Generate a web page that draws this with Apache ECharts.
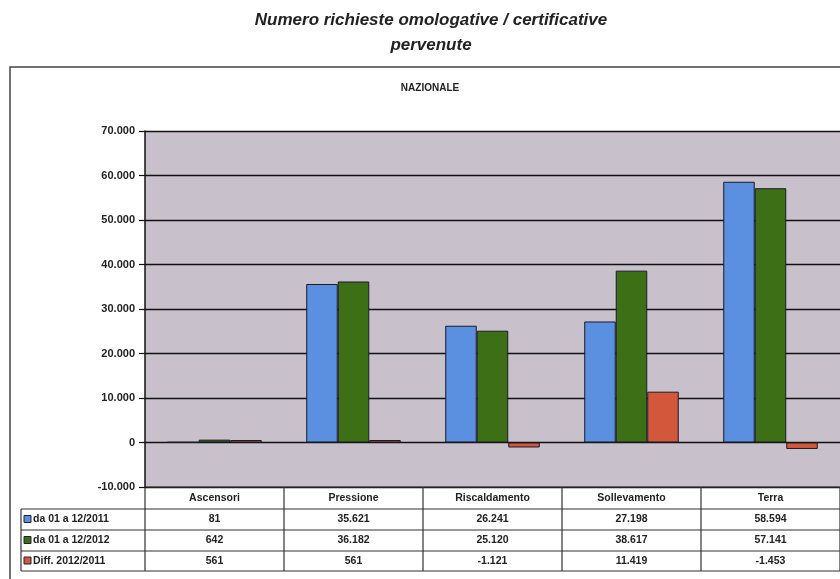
<!DOCTYPE html>
<html><head><meta charset="utf-8">
<script src="https://cdn.jsdelivr.net/npm/echarts@6/dist/echarts.min.js"></script>
<style>html,body{margin:0;padding:0;background:#fff;}#c{width:840px;height:579px;}</style>
</head><body><div id="c"></div>
<script>
const categories = ['Ascensori', 'Pressione', 'Riscaldamento', 'Sollevamento', 'Terra'];
const seriesNames = ['da 01 a 12/2011', 'da 01 a 12/2012', 'Diff. 2012/2011'];
const values2011 = [81, 35621, 26241, 27198, 58594];
const values2012 = [642, 36182, 25120, 38617, 57141];
const valuesDiff = [561, 561, -1121, 11419, -1453];
const yTicks = [-10000, 0, 10000, 20000, 30000, 40000, 50000, 60000, 70000];
const colors = ['#5b8fe0', '#3d6f16', '#d3573a'];

function fmt(n) {
  const s = Math.abs(n).toString().replace(/\B(?=(\d{3})+(?!\d))/g, '.');
  return (n < 0 ? '-' : '') + s;
}

const chart = echarts.init(document.getElementById('c'), null, {renderer: 'canvas'});
const FONT = 'Liberation Sans, Arial, sans-serif';
const G = {left: 145, top: 131, width: 695, height: 356};

chart.setOption({
  animation: false,
  backgroundColor: '#ffffff',
  textStyle: {fontFamily: FONT},
  grid: {left: G.left, top: G.top, width: G.width, height: G.height, containLabel: false,
         show: true, backgroundColor: '#c8c1cc', borderWidth: 0},
  xAxis: {
    type: 'category', data: categories,
    axisLine: {show: false}, axisTick: {show: false}, axisLabel: {show: false},
    splitLine: {show: false}
  },
  yAxis: {
    type: 'value', min: yTicks[0], max: yTicks[yTicks.length - 1], interval: 10000,
    axisLine: {show: true, lineStyle: {color: '#111', width: 1.5}},
    axisTick: {show: true, length: 6, lineStyle: {color: '#111', width: 1.2}},
    axisLabel: {formatter: v => fmt(v), color: '#222', fontWeight: 'bold', fontSize: 11, margin: 10, fontFamily: FONT},
    splitLine: {show: true, lineStyle: {color: '#111', width: 1.3}}
  },
  series: [values2011, values2012, valuesDiff].map((d, i) => ({
    type: 'bar', name: seriesNames[i], data: d,
    barGap: '0%', barCategoryGap: '32%',
    itemStyle: {color: colors[i], borderColor: '#1a1a28', borderWidth: 1}
  }))
});

const gfx = [];
gfx.push({type: 'text', x: 431, y: 12, silent: true, z: 10,
  style: {text: 'Numero richieste omologative / certificative', fill: '#222',
    font: 'italic bold 17px ' + FONT, align: 'center', verticalAlign: 'top'}});
gfx.push({type: 'text', x: 431, y: 37, silent: true, z: 10,
  style: {text: 'pervenute', fill: '#222',
    font: 'italic bold 17px ' + FONT, align: 'center', verticalAlign: 'top'}});
gfx.push({type: 'rect', shape: {x: 10, y: 67, width: 840, height: 530},
  style: {fill: 'none', stroke: '#444', lineWidth: 1.5}, silent: true});
gfx.push({type: 'text', x: 430, y: 88,
  style: {text: 'NAZIONALE', fill: '#222', font: 'bold 10px ' + FONT, align: 'center', verticalAlign: 'middle'}});

const rowsY = [487, 509, 530, 551, 571];
const colX = [145];
for (let i = 0; i < categories.length; i++) colX.push(G.left + G.width * (i + 1) / categories.length);
const legendLeft = 21;
const line = (x1, y1, x2, y2) => gfx.push({type: 'line', shape: {x1, y1, x2, y2},
  style: {stroke: '#333', lineWidth: 1.2}, silent: true});
line(G.left, rowsY[0], 842, rowsY[0]);
for (let r = 1; r < rowsY.length; r++) line(legendLeft, rowsY[r], 842, rowsY[r]);
line(legendLeft, rowsY[1], legendLeft, rowsY[4]);
colX.forEach(x => line(x, rowsY[0], x, rowsY[4]));

categories.forEach((c, i) => {
  const cx = chart.convertToPixel({xAxisIndex: 0}, c);
  gfx.push({type: 'text', x: cx, y: (rowsY[0] + rowsY[1]) / 2,
    style: {text: c, fill: '#222', font: 'bold 10.5px ' + FONT, align: 'center', verticalAlign: 'middle'}});
  [values2011, values2012, valuesDiff].forEach((arr, r) => {
    gfx.push({type: 'text', x: cx, y: (rowsY[r + 1] + rowsY[r + 2]) / 2,
      style: {text: fmt(arr[i]), fill: '#222', font: 'bold 10.5px ' + FONT, align: 'center', verticalAlign: 'middle'}});
  });
});
seriesNames.forEach((n, r) => {
  const cy = (rowsY[r + 1] + rowsY[r + 2]) / 2;
  gfx.push({type: 'rect', shape: {x: legendLeft + 3, y: cy - 4, width: 7, height: 7},
    style: {fill: colors[r], stroke: '#223', lineWidth: 1}});
  gfx.push({type: 'text', x: legendLeft + 12, y: cy,
    style: {text: n, fill: '#222', font: 'bold 10.5px ' + FONT, align: 'left', verticalAlign: 'middle'}});
});

chart.setOption({graphic: {elements: gfx}});
</script></body></html>
